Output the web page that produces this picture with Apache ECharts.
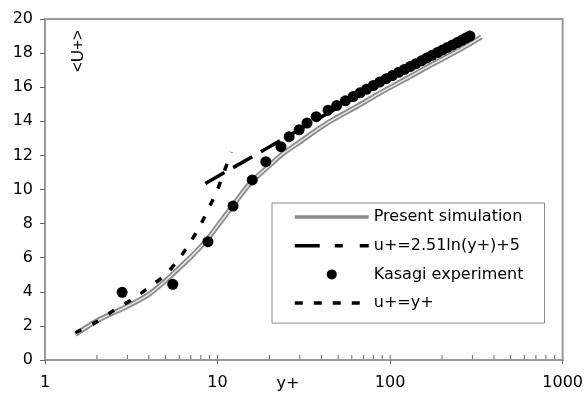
<!DOCTYPE html>
<html><head><meta charset="utf-8">
<script src="https://cdn.jsdelivr.net/npm/echarts@6/dist/echarts.min.js"></script>
<style>html,body{margin:0;padding:0;background:#fff}#c{width:586px;height:397px}</style>
</head><body><div id="c"></div>
<script>
// Data (x = y+, y = <U+>)
const simulation = [[1.5,1.5],[2,2.3],[3,3.15],[4,3.85],[5,4.65],[6,5.4],[7,6.05],[8,6.65],[9,7.25],[10.77,8.3],[12.3,9.08],[15.38,10.35],[19.2,11.25],[23.9,12.1],[29.9,12.78],[37.3,13.47],[46.7,14.1],[65,14.9],[87,15.65],[120,16.42],[169,17.25],[230,17.97],[290,18.54],[338,18.95]];
const logLaw = [[8.5,10.35],[90,16.3]];
const linearLaw = [[1.5,1.6],[2,2.25],[2.5,2.9],[3.2,3.55],[4,4.25],[5,5.0],[6,5.95],[7,6.95],[8,7.95],[10,10],[12,12.2]];
const kasagiYplus = [2.8,5.5,8.8,12.3,15.9,19.05,23.3,26,29.7,33,37.3,43.7,49,55,61,67,73,80,87,95,103,112,121,131,141,152,163,175,188,201,215,230,245,260,275,290];
const kasagiU     = [3.97,4.44,6.94,9.03,10.56,11.63,12.51,13.1,13.5,13.9,14.27,14.65,14.92,15.2,15.45,15.67,15.88,16.1,16.3,16.5,16.68,16.87,17.04,17.22,17.38,17.55,17.71,17.87,18.03,18.18,18.33,18.48,18.62,18.75,18.88,19.0];
const yTicks = [0,2,4,6,8,10,12,14,16,18,20];
const xTickLabels = ['1','10','100','1000'];
const xMinorTicks = [2,3,4,5,6,7,8,9,10,20,30,40,50,60,70,80,90,100,200,300,400,500,600,700,800,900];

const kasagi = kasagiYplus.map((v,i)=>[v,kasagiU[i]]);
const FONT = 'DejaVu Sans';

const chart = echarts.init(document.getElementById('c'), null, {renderer:'canvas'});
chart.setOption({
  animation:false,
  backgroundColor:'#fff',
  grid:{left:45,right:23,top:19,bottom:37,show:true,borderColor:'#9a9a9a',borderWidth:2},
  xAxis:{type:'log',logBase:10,min:1,max:1000,
    axisLine:{show:true,lineStyle:{color:'#9a9a9a',width:2}},
    axisTick:{show:true,inside:false,length:4,lineStyle:{color:'#666'}},
    axisLabel:{color:'#000',fontFamily:FONT,fontSize:16,margin:15,
      formatter:v=>{const s=String(Math.round(v));return xTickLabels.indexOf(s)>=0?s:'';}},
    splitLine:{show:false},minorTick:{show:false}},
  yAxis:{type:'value',min:0,max:20,interval:2,
    axisLine:{show:true,lineStyle:{color:'#9a9a9a',width:2}},
    axisTick:{show:true,inside:false,length:5,lineStyle:{color:'#666'}},
    axisLabel:{color:'#000',fontFamily:FONT,fontSize:16,margin:12,
      formatter:v=> yTicks.indexOf(v)>=0 ? String(v) : ''},
    splitLine:{show:false}},
  legend:{orient:'vertical',left:272,top:203,itemWidth:74,itemHeight:10,itemGap:12.7,
    padding:[6,21,12,21],borderColor:'#8a8a8a',borderWidth:1,backgroundColor:'#fff',
    textStyle:{color:'#000',fontFamily:FONT,fontSize:16},
    data:[
      {name:'Present simulation',itemStyle:{opacity:0},lineStyle:{color:'#8a8a8a',width:3.5,type:'solid'}},
      {name:'u+=2.51ln(y+)+5',itemStyle:{opacity:0},lineStyle:{color:'#000',width:3.5,type:[25,15,8,17]}},
      {name:'Kasagi experiment',icon:'circle',itemStyle:{color:'#000',opacity:1}},
      {name:'u+=y+',itemStyle:{opacity:0},lineStyle:{color:'#000',width:3.5,type:[8,11]}}
    ]},
  graphic:[
    {type:'text',left:70,top:30,rotation:Math.PI/2,originX:0,originY:0,
      style:{text:'<U+>',fontFamily:'Liberation Sans',fontSize:17,fill:'#000'}},
    {type:'text',x:288,y:384,style:{text:'y+',fontFamily:FONT,fontSize:16,fill:'#000',align:'center',verticalAlign:'middle'}}
  ],
  series:[
    {type:'custom',name:'minorTicks',coordinateSystem:'cartesian2d',silent:true,clip:false,z:1,
      data:xMinorTicks.map(v=>[v,0]),
      renderItem:(p,api)=>{const pt=api.coord([api.value(0),0]);
        return {type:'line',shape:{x1:pt[0],y1:pt[1]-1,x2:pt[0],y2:pt[1]-5},style:{stroke:'#666',lineWidth:1}};}},
    {type:'line',name:'Present simulation',data:simulation,symbol:'none',smooth:0.2,z:2,
      lineStyle:{color:'#8a8a8a',width:5}},
    {type:'line',name:'simInner',data:simulation,symbol:'none',smooth:0.2,z:3,silent:true,
      lineStyle:{color:'#e6e6e6',width:1.5}},
    {type:'line',name:'u+=2.51ln(y+)+5',data:logLaw,symbol:'none',z:4,
      lineStyle:{color:'#000',width:3.5,type:[22,10]}},
    {type:'line',name:'u+=y+',data:linearLaw,symbol:'none',smooth:0.2,z:4,
      lineStyle:{color:'#000',width:3.5,type:[7,12]}},
    {type:'scatter',name:'Kasagi experiment',data:kasagi,symbol:'circle',symbolSize:11,z:5,
      itemStyle:{color:'#000',opacity:1}}
  ]
});
</script></body></html>
